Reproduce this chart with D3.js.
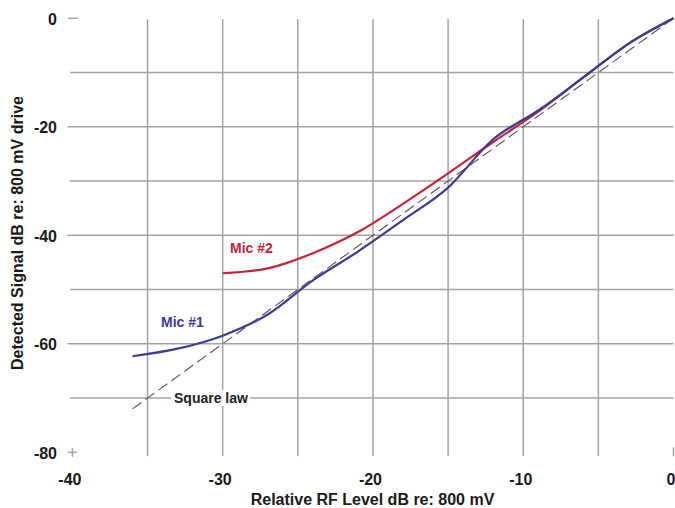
<!DOCTYPE html>
<html>
<head>
<meta charset="utf-8">
<script src="https://cdn.jsdelivr.net/npm/d3@7"></script>
<style>
  body { margin: 0; background: #fff; }
  svg { display: block; font-family: "Liberation Sans", Arial, sans-serif; }
</style>
</head>
<body>
<svg id="chart" width="675" height="508"></svg>
<script>
// ---- data ----
const levels = [-36, -33, -30, -27, -24, -21, -18, -15, -12, -9, -6, -3, 0];
const mic1 = [-62.3, -60.9, -58.5, -54.6, -48.3, -43.0, -37.2, -31.2, -22.3, -17.0, -10.9, -4.7, 0];
const mic2Levels = [-30, -27, -24, -21, -18, -15, -12, -9, -6, -3, 0];
const mic2 = [-47.0, -46.1, -43.3, -39.4, -34.2, -28.6, -22.8, -17.2, -10.9, -4.7, 0];
const squareLawLevels = [-36, 0];
const squareLaw = [-72, 0];
const xTicks = [-40, -30, -20, -10, 0];
const yTicks = [0, -20, -40, -60, -80];
const xGrid = [-35, -30, -25, -20, -15, -10, -5];
const yGrid = [-10, -20, -30, -40, -50, -60, -70];

const svg = d3.select("#chart");
const x = d3.scaleLinear().domain([-40, 0]).range([72.4, 673.5]);
const y = d3.scaleLinear().domain([0, -80]).range([18.3, 452.3]);

const gridColor = "#a3a3a3";
const g = svg.append("g");

// vertical gridlines
g.selectAll(".vg").data(xGrid).join("line")
  .attr("x1", d => x(d)).attr("x2", d => x(d))
  .attr("y1", y(0) + 1).attr("y2", y(-80) + 4)
  .attr("stroke", gridColor).attr("stroke-width", 1.5);

// horizontal gridlines
g.selectAll(".hg").data(yGrid).join("line")
  .attr("x1", d => (d % 20 === 0 ? x(-40) - 5 : x(-40) - 2.5))
  .attr("x2", x(0))
  .attr("y1", d => y(d)).attr("y2", d => y(d))
  .attr("stroke", gridColor).attr("stroke-width", 1.5);

// small axis stubs
g.append("line").attr("x1", x(-40) - 4.5).attr("x2", x(-40) + 5.5)
  .attr("y1", y(0)).attr("y2", y(0)).attr("stroke", gridColor).attr("stroke-width", 1.5);
g.append("line").attr("x1", x(-40) - 4.5).attr("x2", x(-40) + 4.5)
  .attr("y1", y(-80)).attr("y2", y(-80)).attr("stroke", gridColor).attr("stroke-width", 1.5);
g.append("line").attr("x1", x(-40)).attr("x2", x(-40))
  .attr("y1", y(-80) - 4.5).attr("y2", y(-80) + 4.5).attr("stroke", gridColor).attr("stroke-width", 1.5);
g.append("line").attr("x1", x(0)).attr("x2", x(0))
  .attr("y1", y(-80) - 5).attr("y2", y(-80) + 4).attr("stroke", gridColor).attr("stroke-width", 1.5);

// square law dashed line
const sq = squareLawLevels.map((d, i) => [d, squareLaw[i]]);
svg.append("path").datum(sq)
  .attr("d", d3.line().x(d => x(d[0])).y(d => y(d[1])))
  .attr("fill", "none").attr("stroke", "#555").attr("stroke-width", 1.1)
  .attr("stroke-dasharray", "11,5");

const line = d3.line().x(d => x(d[0])).y(d => y(d[1])).curve(d3.curveMonotoneX);

// Mic #2
svg.append("path").datum(mic2Levels.map((d, i) => [d, mic2[i]]))
  .attr("d", line).attr("fill", "none").attr("stroke", "#c42638").attr("stroke-width", 2.2);

// Mic #1
svg.append("path").datum(levels.map((d, i) => [d, mic1[i]]))
  .attr("d", line).attr("fill", "none").attr("stroke", "#3c3c95").attr("stroke-width", 2.2);

// axes labels via d3 axes
const fmt = d => String(d);
const yAxis = svg.append("g").attr("transform", "translate(60,0)")
  .call(d3.axisLeft(y).tickValues(yTicks).tickSize(0).tickPadding(3).tickFormat(fmt));
yAxis.select(".domain").remove();
yAxis.selectAll("text").attr("font-size", 16).attr("font-weight", "bold")
  .attr("fill", "#1a1a1a").attr("font-family", "Liberation Sans, Arial, sans-serif").attr("dy", "0.36em");

const xAxis = svg.append("g").attr("transform", "translate(0,485)")
  .call(d3.axisBottom(x).tickValues(xTicks).tickSize(0).tickPadding(0).tickFormat(fmt));
xAxis.select(".domain").remove();
xAxis.selectAll("text").attr("font-size", 16).attr("font-weight", "bold")
  .attr("fill", "#1a1a1a").attr("font-family", "Liberation Sans, Arial, sans-serif")
  .attr("y", 0).attr("dy", 0).attr("dx", -3);

// axis titles
svg.append("text").attr("x", 372.5).attr("y", 505).attr("text-anchor", "middle")
  .attr("font-size", 16).attr("font-weight", "bold").attr("fill", "#1a1a1a")
  .text("Relative RF Level dB re: 800 mV");
svg.append("text").attr("transform", "translate(23,233) rotate(-90)").attr("text-anchor", "middle")
  .attr("font-size", 16).attr("font-weight", "bold").attr("fill", "#1a1a1a")
  .text("Detected Signal dB re: 800 mV drive");

// series labels
svg.append("text").attr("x", 230).attr("y", 253).attr("font-size", 14).attr("font-weight", "bold")
  .attr("fill", "#c42638").text("Mic #2");
svg.append("text").attr("x", 161).attr("y", 327).attr("font-size", 14).attr("font-weight", "bold")
  .attr("fill", "#3c3c95").text("Mic #1");

// Square law label with white background
const sl = svg.append("g");
const slText = sl.append("text").attr("x", 174).attr("y", y(-70)).attr("dy", "0.35em")
  .attr("font-size", 14).attr("font-weight", "bold").attr("fill", "#222").text("Square law");
const bb = slText.node().getBBox();
sl.insert("rect", "text").attr("x", bb.x - 3).attr("y", bb.y).attr("width", bb.width + 5)
  .attr("height", bb.height).attr("fill", "#fff");
</script>
</body>
</html>
